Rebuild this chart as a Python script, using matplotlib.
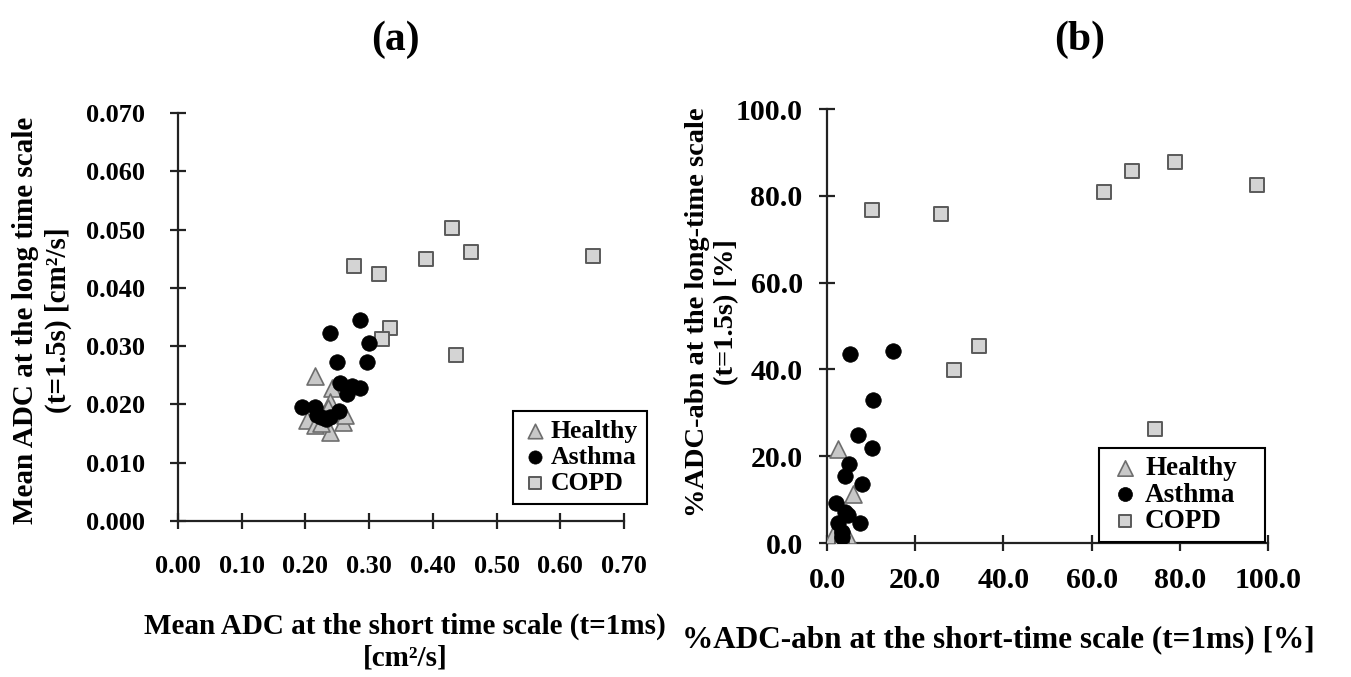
import numpy as np
import matplotlib
matplotlib.use('Agg')
import matplotlib.pyplot as plt

# ---- panel (a): mean ADC, short vs long time scale [cm2/s]
healthy_a_x = [0.215, 0.241, 0.239, 0.236, 0.202, 0.215, 0.239, 0.259, 0.262, 0.225]
healthy_a_y = [0.0249, 0.0228, 0.0205, 0.0194, 0.0173, 0.0165, 0.0153, 0.0170, 0.0182, 0.0168]
asthma_a_x = [0.239, 0.286, 0.300, 0.249, 0.297, 0.254, 0.273, 0.286, 0.265,
              0.194, 0.215, 0.218, 0.239, 0.252, 0.233, 0.225]
asthma_a_y = [0.0322, 0.0344, 0.0306, 0.0272, 0.0273, 0.0236, 0.0232, 0.0229, 0.0218,
              0.0195, 0.0195, 0.0182, 0.0179, 0.0189, 0.0175, 0.0178]
copd_a_x = [0.276, 0.315, 0.389, 0.430, 0.460, 0.651, 0.333, 0.320, 0.436]
copd_a_y = [0.0437, 0.0424, 0.0449, 0.0502, 0.0462, 0.0455, 0.0331, 0.0312, 0.0284]

# ---- panel (b): %ADC-abn, short vs long time scale [%]
healthy_b_x = [2.4, 6.0, 1.4, 4.5, 3.7]
healthy_b_y = [21.6, 11.4, 1.8, 1.8, 0.7]
asthma_b_x = [5.2, 14.9, 10.5, 7.1, 10.1, 5.1, 4.1, 7.9, 2.0, 4.1, 4.8, 2.6, 7.5, 3.3, 3.3]
asthma_b_y = [43.5, 44.2, 32.9, 25.0, 22.0, 18.2, 15.5, 13.7, 9.3, 7.2, 6.5, 4.5, 4.5, 2.6, 1.3]
copd_b_x = [10.1, 25.9, 62.7, 69.1, 79.0, 97.4, 34.5, 28.7, 74.4, 3.3]
copd_b_y = [76.7, 75.7, 80.9, 85.7, 87.7, 82.6, 45.4, 39.9, 26.3, 1.2]

plt.rcParams['font.family'] = ['Liberation Serif', 'DejaVu Serif']
plt.rcParams['font.weight'] = 'bold'

W, H = 1351, 677
fig = plt.figure(figsize=(W / 100, H / 100), dpi=100, facecolor='w')

tri = dict(marker='^', s=150, c='#c8c8c8', edgecolors='#6e6e6e', linewidths=1.2)
dot = dict(marker='o', s=125, c='black', edgecolors='black', linewidths=0.5)
sq = dict(marker='s', s=95, c='#d4d4d4', edgecolors='#5a5a5a', linewidths=1.4)


def style_axes(ax, fs, xpad, ypad):
    for side in ['top', 'right']:
        ax.spines[side].set_visible(False)
    for side in ['left', 'bottom']:
        ax.spines[side].set_linewidth(1.6)
        ax.spines[side].set_color('#222222')
    ax.tick_params(direction='inout', length=11, width=1.6, color='#222222',
                   labelsize=fs)
    ax.tick_params(axis='x', pad=xpad)
    ax.tick_params(axis='y', pad=ypad)
    for lab in ax.get_xticklabels() + ax.get_yticklabels():
        lab.set_fontweight('bold')


# (a)
ax1 = fig.add_axes([178 / W, 1 - 521 / H, 446 / W, 408 / H])
ax1.scatter(healthy_a_x, healthy_a_y, label='Healthy', zorder=3, **tri)
ax1.scatter(asthma_a_x, asthma_a_y, label='Asthma', zorder=4, **dot)
ax1.scatter(copd_a_x, copd_a_y, label='COPD', zorder=3, **sq)
ax1.set_xlim(0, 0.70)
ax1.set_ylim(0, 0.070)
ax1.set_xticks(np.arange(0, 0.71, 0.1))
ax1.set_xticklabels(['%.2f' % v for v in np.arange(0, 0.71, 0.1)])
ax1.set_yticks(np.arange(0, 0.071, 0.01))
ax1.set_yticklabels(['%.3f' % v for v in np.arange(0, 0.071, 0.01)])
style_axes(ax1, 19, 19, 18)
leg1 = ax1.legend(loc='upper left', bbox_to_anchor=(513 / W, 1 - 411 / H),
                  bbox_transform=fig.transFigure, frameon=True,
                  fancybox=False, framealpha=1, edgecolor='black',
                  prop={'size': 18.5, 'weight': 'bold'},
                  handletextpad=0.1, borderpad=0.35, labelspacing=0.12,
                  handlelength=1.0, markerscale=0.85, borderaxespad=0)
leg1.get_frame().set_linewidth(1.5)

# (b)
ax2 = fig.add_axes([827 / W, 1 - 543 / H, 441 / W, 434 / H])
ax2.scatter(healthy_b_x, healthy_b_y, label='Healthy', zorder=3, **tri)
ax2.scatter(asthma_b_x, asthma_b_y, label='Asthma', zorder=4, **dot)
ax2.scatter(copd_b_x, copd_b_y, label='COPD', zorder=3, **sq)
ax2.set_xlim(0, 100)
ax2.set_ylim(0, 100)
ax2.set_xticks(np.arange(0, 101, 20))
ax2.set_xticklabels(['%.1f' % v for v in np.arange(0, 101, 20)])
ax2.set_yticks(np.arange(0, 101, 20))
ax2.set_yticklabels(['%.1f' % v for v in np.arange(0, 101, 20)])
style_axes(ax2, 21.5, 12, 12)
leg2 = ax2.legend(loc='lower left',
                  bbox_to_anchor=(1099 / W, 1 - 542 / H, 166 / W, 93 / H),
                  bbox_transform=fig.transFigure, mode='expand', frameon=True,
                  fancybox=False, framealpha=1, edgecolor='black',
                  prop={'size': 19.5, 'weight': 'bold'},
                  handletextpad=0.1, borderpad=0.3, labelspacing=0.05,
                  handlelength=1.3, markerscale=0.9, borderaxespad=0)
leg2.get_frame().set_linewidth(1.5)

# titles and axis labels
fig.text(395 / W, 1 - 40 / H, '(a)', ha='center', va='center',
         fontsize=30, fontweight='bold')
fig.text(1080 / W, 1 - 40 / H, '(b)', ha='center', va='center',
         fontsize=30, fontweight='bold')

fig.text(42 / W, 1 - 320 / H,
         'Mean ADC at the long time scale\n(t=1.5s) [cm\u00b2/s]',
         rotation=90, ha='center', va='center', multialignment='center',
         fontsize=21, fontweight='bold', linespacing=1.3)
fig.text(405 / W, 1 - 642 / H,
         'Mean ADC at the short time scale (t=1ms)\n[cm\u00b2/s]',
         ha='center', va='center', multialignment='center',
         fontsize=21, fontweight='bold', linespacing=1.2)

fig.text(712 / W, 1 - 312 / H,
         '%ADC-abn at the long-time scale\n(t=1.5s) [%]',
         rotation=90, ha='center', va='center', multialignment='center',
         fontsize=20.5, fontweight='bold', linespacing=1.2)
fig.text(998 / W, 1 - 640 / H,
         '%ADC-abn at the short-time scale (t=1ms) [%]',
         ha='center', va='center', fontsize=22.5, fontweight='bold')

fig.savefig('out.png', dpi=100, facecolor='w')
